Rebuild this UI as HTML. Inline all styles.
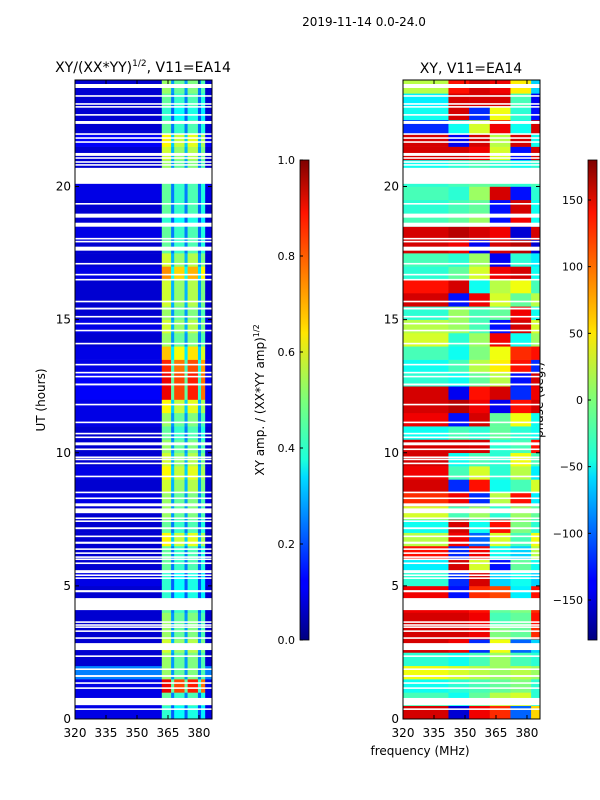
<!DOCTYPE html>
<html><head><meta charset="utf-8"><style>
body{margin:0;background:#fff;}
svg{display:block;font-family:"DejaVu Sans","Liberation Sans",sans-serif;}
</style></head><body>
<svg id="fig" width="600" height="800" viewBox="0 0 600 800">
<defs>
<linearGradient id="jetv" x1="0" y1="1" x2="0" y2="0">
<stop offset="0" stop-color="#00007f"/><stop offset="0.11" stop-color="#0000ff"/>
<stop offset="0.125" stop-color="#0000ff"/><stop offset="0.34" stop-color="#00dcff"/>
<stop offset="0.375" stop-color="#1cffdb"/><stop offset="0.5" stop-color="#7cff79"/>
<stop offset="0.64" stop-color="#ffe600"/><stop offset="0.66" stop-color="#ffd200"/>
<stop offset="0.89" stop-color="#ff1300"/><stop offset="1" stop-color="#7f0000"/>
</linearGradient>
</defs>
<text x="364" y="26" font-size="12" text-anchor="middle">2019-11-14 0.0-24.0</text>
<text x="143" y="72" font-size="14" text-anchor="middle">XY/(XX*YY)<tspan font-size="9" dy="-6">1/2</tspan><tspan dy="6">, V11=EA14</tspan></text>
<text x="471" y="73" font-size="14" text-anchor="middle">XY, V11=EA14</text>
<text x="420" y="755" font-size="12" text-anchor="middle">frequency (MHz)</text>
<text transform="translate(45,400) rotate(-90)" font-size="12" text-anchor="middle">UT (hours)</text>
<text transform="translate(264,400) rotate(-90)" font-size="12" text-anchor="middle">XY amp. / (XX*YY amp)<tspan font-size="8" dy="-5">1/2</tspan></text>
<text transform="translate(543,400) rotate(-90)" font-size="12" text-anchor="middle">phase (deg.)</text>
<g id="ampPanel"></g>
<g id="phasePanel"></g>
<g id="axes"></g>
</svg>
<script>
// time rows: 48 rows of 0.5 h each (row i covers i*0.5 .. i*0.5+0.5 h)
const ampBand = [0.4,0.45,0.85,0.5,0.5,0.55,0.5,0.5,0.45,0.4,0.4,0.45,0.45,0.6,0.45,0.5,0.5,0.55,0.6,0.55,0.5,0.45,0.5,0.6,0.85,0.85,0.8,0.65,0.5,0.55,0.5,0.55,0.55,0.7,0.55,0.45,0.45,0.4,0.45,0.45,0.45,0.5,0.55,0.6,0.45,0.4,0.45,0.5];
const ampBg = [0.1,0.1,0.1,0.25,0.08,0.08,0.08,0.08,0.08,0.08,0.1,0.08,0.08,0.08,0.08,0.08,0.1,0.08,0.1,0.08,0.08,0.08,0.1,0.1,0.12,0.12,0.1,0.1,0.08,0.1,0.08,0.08,0.08,0.1,0.08,0.08,0.1,0.08,0.08,0.1,0.1,0.08,0.08,0.12,0.08,0.08,0.08,0.08];
// frequency channel edges (MHz) and relative gain (0 = background)
const ampColEdges = [320,362,366.5,368,373,374.5,379.5,381,383,386.3];
const ampColGain = [0,1.05,0.55,0.95,0.55,1.0,0.5,0.9,0];
const phaseColEdges = [320,342,352,362,372,382,386.3];
const phaseVals = [
[150,-150,140,120,-100,60],[-20,-40,-10,20,30,-30],[-40,-30,-20,-10,0,-30],[40,30,20,10,20,10],
[-30,-40,-20,10,-20,-30],[150,140,-120,40,-100,-60],[150,150,140,0,-10,120],[150,150,140,-20,-10,130],
[140,140,130,-10,0,120],[140,-130,120,110,-50,130],[-30,-120,150,-60,-40,-60],[-50,150,30,-130,-10,-40],
[130,-120,140,-40,-60,20],[20,140,-100,30,-20,40],[-40,150,-40,130,0,-30],[30,-20,10,-30,10,-10],
[120,140,-120,20,130,-50],[150,-120,130,-40,-20,30],[140,-20,30,-30,20,-50],[150,-40,-20,-30,40,-20],
[150,150,150,-30,-20,130],[-40,-20,-30,-10,-30,-40],[140,-130,150,-10,40,-40],[150,160,140,-140,130,150],
[150,-140,130,150,-120,140],[-30,-40,-10,20,-130,150],[-40,-20,20,50,130,-120],[-20,-40,0,40,120,130],
[30,-30,10,140,-40,10],[20,10,-20,-130,150,30],[-30,10,-20,-10,140,-40],[150,-130,140,30,-10,20],
[130,150,-40,20,40,-20],[-30,-10,30,140,150,-40],[-20,-30,10,-140,-30,-50],[150,140,-140,150,160,-150],
[150,160,150,140,-150,150],[-20,-10,10,-130,140,-40],[-30,-20,-10,-130,150,-40],[-20,-30,10,150,-130,-30],
[-30,-20,-10,-20,-30,-20],[-40,-30,-20,-30,-40,-30],[150,150,140,30,-130,150],[150,-140,150,20,150,-40],
[-120,-40,30,140,-40,150],[-40,150,-120,40,-30,-130],[-50,150,150,150,-20,-140],[20,130,150,140,50,-60]];
// flagged (blank) time intervals, hours
const flags = [[23.70,23.85],[23.37,23.43],[23.07,23.13],[22.96,23.02],[22.66,22.72],[22.35,22.46],[21.94,22.0],[21.79,21.85],[21.64,21.70],[21.15,21.26],[21.04,21.10],[20.89,20.95],[20.78,20.84],[20.10,20.70],[19.32,19.38],[18.83,18.98],[18.49,18.64],[18.01,18.07],[17.90,17.96],[17.59,17.74],[17.07,17.13],[16.66,16.72],[16.47,16.53],[15.65,15.71],[15.38,15.45],[15.08,15.14],[14.82,14.88],[14.56,14.62],[14.07,14.13],[13.28,13.34],[12.98,13.04],[12.83,12.89],[12.53,12.60],[11.78,11.84],[11.11,11.17],[10.69,10.75],[10.55,10.61],[10.28,10.39],[10.10,10.16],[9.80,9.86],[9.72,9.78],[9.57,9.63],[9.08,9.14],[8.48,8.54],[8.26,8.32],[7.99,8.10],[7.73,7.91],[7.51,7.57],[7.40,7.46],[7.13,7.20],[6.83,6.89],[6.58,6.66],[6.35,6.41],[6.20,6.26],[6.05,6.11],[5.97,6.03],[5.82,5.88],[5.48,5.59],[5.37,5.43],[5.26,5.32],[4.76,4.84],[4.09,4.54],[3.61,3.67],[3.50,3.56],[3.42,3.48],[3.27,3.33],[3.01,3.07],[2.59,2.85],[2.33,2.39],[1.84,1.90],[1.58,1.65],[1.32,1.38],[1.13,1.19],[0.52,0.79],[0.34,0.40]];
const xTicks = [320,335,350,365,380];
const yTicks = [0,5,10,15,20];
const ampTicks = [0.0,0.2,0.4,0.6,0.8,1.0];
const phaseTicks = [-150,-100,-50,0,50,100,150];

const NS="http://www.w3.org/2000/svg";
function jet(v){v=Math.max(0,Math.min(1,v));
 const r=Math.min(4*v-1.5,-4*v+4.5),g=Math.min(4*v-0.5,-4*v+3.5),b=Math.min(4*v+0.5,-4*v+2.5);
 const c=x=>Math.round(255*Math.max(0,Math.min(1,x)));return `rgb(${c(r)},${c(g)},${c(b)})`;}
const Y0=719,Y1=80;
function yS(h){return Y0-(h/24)*(Y0-Y1);}
function mkX(left){return f=>left+(f-320)/(386.3-320)*137;}
const xA=mkX(75), xP=mkX(403);
function rect(g,x,y,w,h,fill){const r=document.createElementNS(NS,'rect');
 r.setAttribute('x',x);r.setAttribute('y',y);r.setAttribute('width',w);r.setAttribute('height',h);r.setAttribute('fill',fill);
 g.appendChild(r);return r;}
function line(g,x1,y1,x2,y2){const l=document.createElementNS(NS,'line');
 l.setAttribute('x1',x1);l.setAttribute('y1',y1);l.setAttribute('x2',x2);l.setAttribute('y2',y2);l.setAttribute('stroke','#000');l.setAttribute('stroke-width','1');g.appendChild(l);return l;}
function text(g,x,y,s,anchor){const t=document.createElementNS(NS,'text');t.setAttribute('x',x);t.setAttribute('y',y);t.setAttribute('font-size','12');t.setAttribute('text-anchor',anchor);t.textContent=s;g.appendChild(t);return t;}

const ga=document.getElementById('ampPanel'), gp=document.getElementById('phasePanel'), ax=document.getElementById('axes');
for(let i=0;i<ampBand.length;i++){
 const yt=yS(i*0.5+0.5), yb=yS(i*0.5);
 for(let j=0;j<ampColGain.length;j++){
  const v=ampColGain[j]===0?ampBg[i]:ampBand[i]*ampColGain[j];
  const r=rect(ga,xA(ampColEdges[j]),yt,xA(ampColEdges[j+1])-xA(ampColEdges[j])+0.3,yb-yt+0.3,jet(v));
  
  
 }
 for(let j=0;j<phaseVals[i].length;j++){
  const v=(phaseVals[i][j]+180)/360;
  const r=rect(gp,xP(phaseColEdges[j]),yt,xP(phaseColEdges[j+1])-xP(phaseColEdges[j])+0.3,yb-yt+0.3,jet(v));
  
  
 }
}
for(const [a,b] of flags){
 for(const left of [75,403]){
  const r=rect(ax,left,yS(b),137,Math.max(1.2,yS(a)-yS(b)),'#fff');
  
  
 }
}
for(const [left,xs,nm] of [[75,xA,'amp'],[403,xP,'phase']]){
 const fr=rect(ax,left,Y1,137,Y0-Y1,'none');fr.setAttribute('stroke','#000');
 
 
 for(const t of xTicks){const x=xs(t);line(ax,x,Y0,x,Y0-4);line(ax,x,Y1,x,Y1+4);
  const tx=text(ax,x,737,String(t),'middle');
  
  }
 for(const t of yTicks){const y=yS(t);line(ax,left,y,left+4,y);line(ax,left+137,y,left+133,y);
  const tx=text(ax,left-4,y+4,String(t),'end');
  
  }
}
const CB0=640,CB1=160;
for(const [x,ticks,lo,hi,nm,fmt] of [[300,ampTicks,0,1,'amp-colorbar',v=>v.toFixed(1)],[588,phaseTicks,-180,180,'phase-colorbar',v=>v<0?'\u2212'+(-v):String(v)]]){
 const r=rect(ax,x,CB1,9,CB0-CB1,'url(#jetv)');r.setAttribute('stroke','#000');r.setAttribute('stroke-width','0.8');
 
 
 for(const t of ticks){const y=CB0-(t-lo)/(hi-lo)*(CB0-CB1);line(ax,x,y,x+3,y);
  const tx=text(ax,x-5,y+4,fmt(t),'end');tx.setAttribute('font-size','11');
  
  }
}
</script>
</body></html>
